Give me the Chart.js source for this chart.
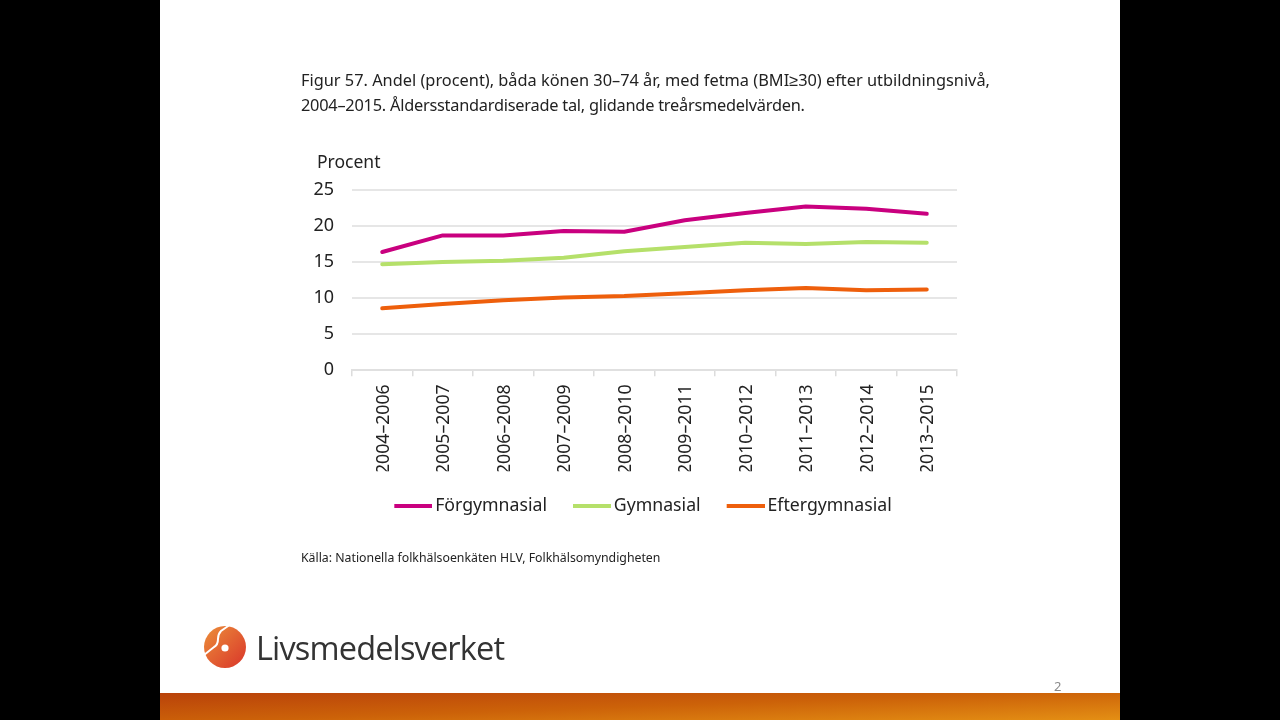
<!DOCTYPE html>
<html lang="sv"><head><meta charset="utf-8">
<script src="https://cdn.jsdelivr.net/npm/chart.js@4"></script>
<style>
html,body{margin:0;padding:0;width:1280px;height:720px;background:#000;overflow:hidden}
#slide{position:absolute;left:160px;top:0;width:960px;height:720px;background:#fff}
#bar{position:absolute;left:160px;top:693px;width:960px;height:27px;background:linear-gradient(178deg,#b9420a 0%,#cc6209 50%,#e48f14 100%)}
canvas{position:absolute;left:0;top:0;filter:blur(.4px)}
.t{position:absolute;font-family:"Noto Sans",sans-serif;color:#222;white-space:nowrap;filter:blur(.3px)}
#title1{left:301px;top:68px;font-size:16.35px;line-height:25px}
#title2{left:301px;top:93px;font-size:16.35px;line-height:25px;letter-spacing:-.24px}
#unit{left:317px;top:149px;font-size:17.5px;line-height:24px}
#src{left:301px;top:549px;font-size:12.3px;line-height:18px}
#brand{left:256px;top:625px;font-size:32.5px;line-height:46px;color:#333;font-family:"Open Sans",sans-serif;letter-spacing:-.85px}
#pg{left:1054px;top:678px;font-size:13px;line-height:16px;color:#8a8a8a}
#logo{position:absolute;left:200px;top:622px}
</style></head><body>
<div id="slide"></div><div id="bar"></div>
<svg id="logo" width="50" height="50" viewBox="0 0 50 50">
<defs><linearGradient id="g" x1="0" y1="0" x2="1" y2="1"><stop offset="0" stop-color="#ec8f3a"/><stop offset="1" stop-color="#d9352a"/></linearGradient></defs>
<circle cx="25" cy="25" r="21" fill="url(#g)"/>
<path d="M31 2 L21 9 Q18 12 18 17 Q18 23 14 25 L4 33" fill="none" stroke="#fff" stroke-width="2"/>
<circle cx="25" cy="26" r="3.6" fill="#fff"/>
</svg>
<div class="t" id="title1">Figur 57. Andel (procent), båda könen 30–74 år, med fetma (BMI≥30) efter utbildningsnivå,</div>
<div class="t" id="title2">2004–2015. Åldersstandardiserade tal, glidande treårsmedelvärden.</div>
<div class="t" id="unit">Procent</div>
<div class="t" id="src">Källa: Nationella folkhälsoenkäten HLV, Folkhälsomyndigheten</div>
<div class="t" id="brand">Livsmedelsverket</div>
<div class="t" id="pg">2</div>
<canvas id="c" width="1280" height="720"></canvas>
<script>
const categories=["2004–2006","2005–2007","2006–2008","2007–2009","2008–2010","2009–2011","2010–2012","2011–2013","2012–2014","2013–2015"];
const forgymnasial=[16.4,18.7,18.7,19.3,19.2,20.8,21.8,22.7,22.4,21.7];
const gymnasial=[14.7,15.0,15.2,15.6,16.5,17.1,17.7,17.5,17.8,17.7];
const eftergymnasial=[8.6,9.2,9.7,10.1,10.3,10.7,11.1,11.4,11.1,11.2];
const F="'Noto Sans',sans-serif";
function swatch(color){
 const s=document.createElement('canvas');s.width=44;s.height=4;
 const g=s.getContext('2d');g.fillStyle=color;g.fillRect(6,0,38,4);return s;
}
const line=(label,data,color)=>({label,data,borderColor:color,backgroundColor:color,borderWidth:4,pointRadius:0,pointStyle:swatch(color),tension:0,fill:false,borderCapStyle:'round',borderJoinStyle:'round'});
const legendShift={id:'legendShift',afterLayout(chart){chart.legend.left=329;}};
new Chart(document.getElementById('c'),{
 type:'line',
 plugins:[legendShift],
 data:{labels:categories,datasets:[
  line('Förgymnasial',forgymnasial,'#c9007f'),
  line('Gymnasial',gymnasial,'#b5e06a'),
  line('Eftergymnasial',eftergymnasial,'#ee5f0c')]},
 options:{
  responsive:false,animation:false,devicePixelRatio:1,
  layout:{padding:{left:300,right:323,top:190,bottom:195}},
  plugins:{
   tooltip:{enabled:false},
   legend:{position:'bottom',labels:{usePointStyle:true,pointStyleWidth:32,boxHeight:18,padding:26,color:'#222',font:{family:F,size:17.7}}}
  },
  scales:{
   x:{offset:true,
      grid:{display:true,drawOnChartArea:false,drawTicks:true,tickLength:6,color:'#dcdcdc',lineWidth:1.5,offset:true},
      border:{color:'#e0e0e0',width:2},
      ticks:{color:'#222',font:{family:F,size:17.7},minRotation:90,maxRotation:90,autoSkip:false,padding:8,labelOffset:1.5},
      afterFit(s){s.height=101;}},
   y:{min:0,max:25,
      grid:{color:'#e6e6e6',lineWidth:2,drawTicks:false},
      border:{display:false},
      ticks:{stepSize:5,color:'#222',font:{family:F,size:18},padding:18},
      afterFit(s){s.width=52;}}
  }
 }
});
</script>
</body></html>
